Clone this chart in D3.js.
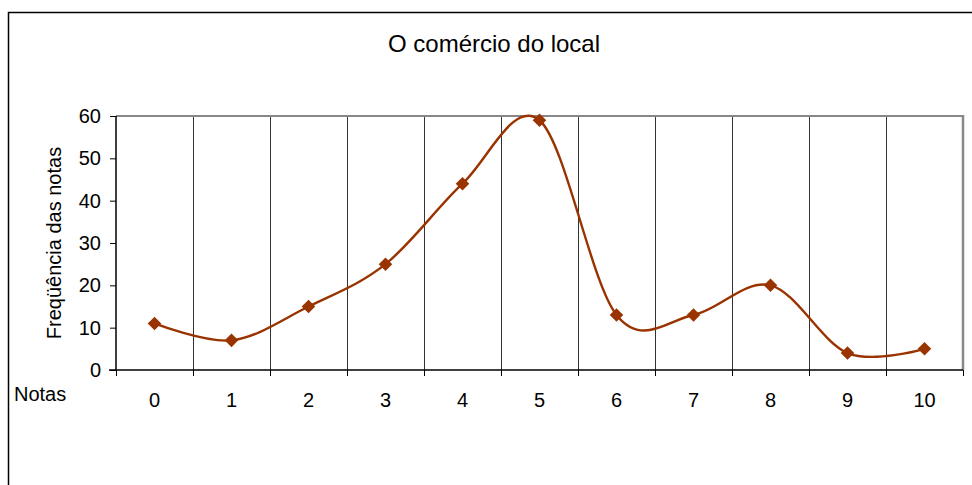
<!DOCTYPE html>
<html>
<head>
<meta charset="utf-8">
<script src="https://cdn.jsdelivr.net/npm/d3@7"></script>
<style>
  html, body { margin: 0; padding: 0; background: #fff; }
  svg { display: block; }
  text { font-family: "Liberation Sans", Arial, sans-serif; fill: #000; }
</style>
</head>
<body>
<svg id="chart" width="972" height="485"></svg>
<script>
const categories = ["0", "1", "2", "3", "4", "5", "6", "7", "8", "9", "10"];
const values = [11, 7, 15, 25, 44, 59, 13, 13, 20, 4, 5];
const yTicks = [0, 10, 20, 30, 40, 50, 60];
const titleText = "O comércio do local";
const yLabel = "Freqüência das notas";
const xLabel = "Notas";

const svg = d3.select("#chart");
const color = "#993300";

// Outer chart border (extends beyond right/bottom)
svg.append("rect")
  .attr("x", 8.5).attr("y", 12.5)
  .attr("width", 1000).attr("height", 1000)
  .attr("fill", "#fff").attr("stroke", "#000").attr("stroke-width", 1.5);

const plot = { left: 116, top: 116, right: 963, bottom: 370 };

const x = d3.scaleBand().domain(categories).range([plot.left, plot.right]).padding(0);
const y = d3.scaleLinear().domain([0, 60]).range([plot.bottom, plot.top]);

// vertical gridlines at category boundaries
const boundaries = categories.map(c => x(c)).concat([x(categories[categories.length - 1]) + x.bandwidth()]);
svg.append("g").selectAll("line").data(boundaries.slice(1, -1)).join("line")
  .attr("x1", d => Math.round(d) + 0.5).attr("x2", d => Math.round(d) + 0.5)
  .attr("y1", plot.top).attr("y2", plot.bottom)
  .attr("stroke", "#333").attr("stroke-width", 1);

// gray top and right plot border
svg.append("line").attr("x1", plot.left).attr("x2", plot.right)
  .attr("y1", plot.top).attr("y2", plot.top)
  .attr("stroke", "#888").attr("stroke-width", 2);
svg.append("line").attr("x1", plot.right).attr("x2", plot.right)
  .attr("y1", plot.top - 1).attr("y2", plot.bottom)
  .attr("stroke", "#888").attr("stroke-width", 2.5);

// Y axis
const yAxis = d3.axisLeft(y).tickValues(yTicks).tickSize(6).tickPadding(9);
const gy = svg.append("g").attr("transform", `translate(${plot.left},0)`).call(yAxis);
gy.select(".domain").attr("stroke", "#000").attr("stroke-width", 1.5).attr("d", `M0,${plot.top}V${plot.bottom}`);
gy.selectAll(".tick line").attr("stroke", "#000").attr("stroke-width", 1);
gy.selectAll(".tick text").style("font-size", "20px").style("font-family", "Liberation Sans, Arial, sans-serif").attr("fill", "#000");

// X axis with ticks at boundaries
const xb = d3.scaleLinear().domain([0, categories.length]).range([plot.left, plot.right]);
const xAxis = d3.axisBottom(xb).tickValues(d3.range(0, categories.length + 1)).tickSize(6).tickFormat("");
const gx = svg.append("g").attr("transform", `translate(0,${plot.bottom})`).call(xAxis);
gx.select(".domain").attr("stroke", "#000").attr("stroke-width", 1.5).attr("d", `M${plot.left - 7},0H${plot.right}`);
gx.selectAll(".tick line").attr("stroke", "#000").attr("stroke-width", 1);

// X category labels
svg.append("g").selectAll("text").data(categories).join("text")
  .attr("x", d => x(d) + x.bandwidth() / 2)
  .attr("y", 407)
  .attr("text-anchor", "middle")
  .style("font-size", "20px")
  .text(d => d);

// Line
const line = d3.line()
  .x((d, i) => x(categories[i]) + x.bandwidth() / 2)
  .y(d => y(d))
  .curve(d3.curveCardinal.tension(0));
svg.append("path").datum(values)
  .attr("d", line)
  .attr("fill", "none").attr("stroke", color).attr("stroke-width", 2.4);

// Diamond markers
const diamond = d3.symbol().type(d3.symbolSquare).size(92);
svg.append("g").selectAll("path").data(values).join("path")
  .attr("d", diamond)
  .attr("transform", (d, i) => `translate(${x(categories[i]) + x.bandwidth() / 2},${y(d)}) rotate(45)`)
  .attr("fill", color);

// Title
svg.append("text").attr("x", 494).attr("y", 52)
  .attr("text-anchor", "middle").style("font-size", "24px").text(titleText);

// Y label
svg.append("text")
  .attr("transform", `translate(61,${(plot.top + plot.bottom) / 2}) rotate(-90)`)
  .attr("text-anchor", "middle").style("font-size", "20px").text(yLabel);

// X label
svg.append("text").attr("x", 14).attr("y", 401).style("font-size", "20px").text(xLabel);
</script>
</body>
</html>
